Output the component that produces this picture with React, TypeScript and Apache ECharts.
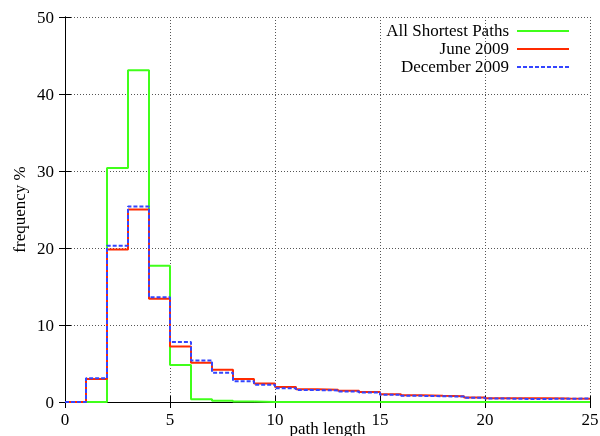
import React, { useEffect, useRef } from "react";
import * as echarts from "echarts";

// bin start positions (path length), value held from x to x+1
const binStarts = [0,1,2,3,4,5,6,7,8,9,10,11,12,13,14,15,16,17,18,19,20,21,22,23,24];
const allShortest = [0,0,30.4,43.1,17.7,4.8,0.35,0.15,0.05,0,0,0,0,0,0,0,0,0,0,0,0,0,0,0,0];
const june2009 = [0,3.0,19.8,25.0,13.4,7.2,5.1,4.2,3.0,2.4,1.95,1.65,1.6,1.45,1.3,1.0,0.87,0.8,0.75,0.6,0.5,0.5,0.5,0.45,0.42];
const dec2009 = [0,3.1,20.3,25.4,13.6,7.8,5.4,3.8,2.7,2.25,1.8,1.55,1.5,1.35,1.25,0.95,0.8,0.75,0.7,0.55,0.45,0.4,0.4,0.42,0.45];
const seriesNames = ["All Shortest Paths", "June 2009", "December 2009"];
const colors = ["#40ff1a", "#ff2a00", "#3344ff"];
const xMax = 25;

const toSteps = (vals: number[]) => {
  const pts = binStarts.map((x, i) => [x, vals[i]]);
  pts.push([xMax, vals[vals.length - 1]]);
  return pts;
};

const FONT = "Liberation Serif";

export default function App() {
  const ref = useRef<HTMLDivElement>(null);
  useEffect(() => {
    if (!ref.current) return;
    const chart = echarts.init(ref.current, null, { renderer: "svg" });
    const gridLine = { show: true, lineStyle: { color: "#555", type: [1, 2] as any, width: 1 } };
    const axisLine = { show: true, lineStyle: { color: "#000", width: 1 } };
    const tick = { show: true, inside: true, length: 6, lineStyle: { color: "#000" } };
    const label = { color: "#000", fontFamily: FONT, fontSize: 17 };
    const series = [allShortest, june2009, dec2009].map((vals, i) => ({
      name: seriesNames[i],
      type: "line",
      step: "end",
      data: toSteps(vals),
      showSymbol: false,
      symbol: "none",
      lineStyle: { color: colors[i], width: 2, type: i === 2 ? [4, 2] : "solid" },
      itemStyle: { color: colors[i] },
      z: 10 + i,
    }));
    const legendRows = [31, 49, 67];
    const graphic: any[] = [];
    seriesNames.forEach((n, i) => {
      graphic.push({
        type: "text",
        right: 600 - 509,
        top: legendRows[i] - 9,
        style: { text: n, font: `17px "${FONT}"`, fill: "#000" },
      });
      graphic.push({
        type: "line",
        shape: { x1: 517, y1: legendRows[i], x2: 569, y2: legendRows[i] },
        style: { stroke: colors[i], lineWidth: 2, lineDash: i === 2 ? [4, 2] : null },
      });
    });
    chart.setOption({
      animation: false,
      grid: { left: 65, right: 10, top: 17, bottom: 34, containLabel: false, outerBoundsMode: "none" },
      xAxis: [
        {
          type: "value", min: 0, max: 25, interval: 5,
          name: "path length", nameLocation: "middle", nameGap: 18, nameMoveOverlap: false,
          nameTextStyle: { color: "#000", fontFamily: FONT, fontSize: 17, verticalAlign: "top" },
          axisLine, axisTick: tick, axisLabel: { ...label, margin: 9 },
          splitLine: gridLine,
        },
        {
          type: "value", min: 0, max: 25, interval: 5, position: "top",
          axisLine, axisTick: tick, axisLabel: { show: false }, splitLine: { show: false },
        },
      ],
      yAxis: [
        {
          type: "value", min: 0, max: 50, interval: 10,
          name: "frequency %", nameLocation: "middle", nameGap: 37, nameMoveOverlap: false,
          nameTextStyle: { color: "#000", fontFamily: FONT, fontSize: 17 },
          axisLine, axisTick: tick, axisLabel: { ...label, margin: 11 },
          splitLine: gridLine,
        },
        {
          type: "value", min: 0, max: 50, interval: 10, position: "right",
          axisLine, axisTick: tick, axisLabel: { show: false }, splitLine: { show: false },
        },
      ],
      series,
      graphic,
    });
    return () => chart.dispose();
  }, []);
  return <div ref={ref} style={{ position: "fixed", left: 0, top: 0, width: 600, height: 436 }} />;
}
